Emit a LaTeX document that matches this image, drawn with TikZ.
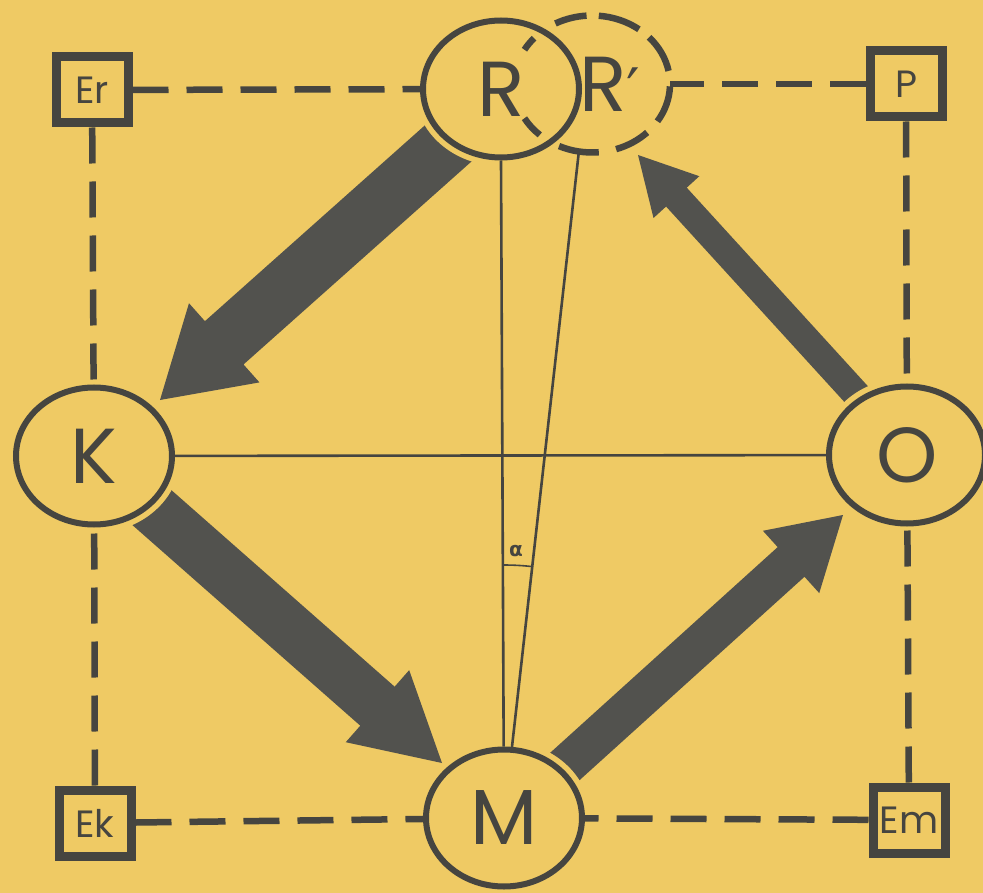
\documentclass[tikz,border=0pt]{standalone}
\usepackage{fontspec}
\setmainfont{Poppins}
\newfontfamily\symf{DejaVu Sans}
\usetikzlibrary{shapes.geometric,calc,angles}
\definecolor{bgc}{RGB}{239,202,100}
\definecolor{ink}{RGB}{70,69,64}
\definecolor{arrowc}{RGB}{82,82,78}
% name, tail, tip, half shaft width, half head width, head length
\newcommand\fatarr[6]{%
  \coordinate (#1b) at ($(#3)!#6!(#2)$);
  \fill[arrowc] ($(#2)!#4!90:(#3)$) -- ($(#1b)!#4!90:(#3)$) -- ($(#1b)!#5!90:(#3)$)
    -- (#3) -- ($(#1b)!#5!-90:(#3)$) -- ($(#1b)!#4!-90:(#3)$) -- ($(#2)!#4!-90:(#3)$) -- cycle;}
\tikzset{
  big/.style={ellipse, minimum width=156pt, minimum height=137pt, inner sep=0pt,
    line width=6pt, font=\fontsize{78}{78}\selectfont, text=ink},
  bigc/.style={big, draw=ink, fill=bgc, preaction={draw=bgc, line width=17pt}},
  boxn/.style={rectangle, draw=ink, line width=9pt, fill=bgc, minimum width=72pt,
    minimum height=66pt, inner sep=0pt, font=\fontsize{38}{38}\selectfont, text=ink},
  dline/.style={draw=ink, line width=6.5pt, dash pattern=on 36pt off 18pt},
  rdash/.style={draw=ink, line width=6.5pt},
  thinl/.style={draw=ink, line width=2.6pt},
}
\begin{document}
\begin{tikzpicture}[x=1pt,y=-1pt]
\useasboundingbox (0,0) rectangle (983,893);
\fill[bgc] (0,0) rectangle (983,893);
% fat arrows
\coordinate (a1t) at (470,124); \coordinate (a1h) at (160,400);
\coordinate (a2t) at (141,498); \coordinate (a2h) at (442,763);
\coordinate (a3t) at (551,779); \coordinate (a3h) at (843,515);
\coordinate (a4t) at (867,406); \coordinate (a4h) at (638,155);
\fatarr{a1}{a1t}{a1h}{29pt}{53pt}{86pt}
\fatarr{a2}{a2t}{a2h}{26pt}{48pt}{86pt}
\fatarr{a3}{a3t}{a3h}{20pt}{42pt}{70pt}
\fatarr{a4}{a4t}{a4h}{14pt}{31pt}{57pt}
% circles
\node[bigc] (R) at (501,89) {R};
\node[bigc] (K) at (94,456) {K};
\node[bigc] (O) at (907,455) {O};
\node[bigc] (M) at (504,818) {M};
% dashed circle R'
\node[big, outer sep=0pt] (Rp) at (592,84) {\hspace*{36pt}R{\symf\fontsize{60}{60}\selectfont ′}};
\foreach \a/\b in {-115/-85,-72/-45,-33/-2,11/43,53/85,94/118,138/150,210/228}
  \draw[rdash] ($(Rp.center)+(\a:78pt and 68.5pt)$) arc[start angle=\a, end angle=\b, x radius=78pt, y radius=68.5pt];
% boxes
\node[boxn] (Er) at (92,90) {Er};
\node[boxn] (P) at (906,84) {P};
\node[boxn] (Ek) at (95,823) {Ek};
\node[boxn] (Em) at (909,820) {Em};
% dashed connectors
\draw[dline] (Er) -- (R);
\draw[dline] (P) -- (Rp.east);
\draw[dline] (Er) -- (K);
\draw[dline] (Ek) -- (K);
\draw[dline] (Ek) -- (M);
\draw[dline] (Em) -- (M);
\draw[dline] (P) -- (O);
\draw[dline] (Em) -- (O);
% thin lines
\coordinate (rst) at (R.south);
\coordinate (rpt) at (Rp.-101);
\coordinate (Mc) at (M.center);
\draw[thinl] (K) -- (O);
\draw[thinl] (rst) -- (M);
\draw[thinl] (rpt) -- (M);
\pic[draw=ink, line width=1.6pt, angle radius=253pt] {angle = rpt--Mc--rst};
\node[text=ink, inner sep=0pt, font=\symf\bfseries\fontsize{20}{20}\selectfont] (alpha) at (516,551) {α};
\end{tikzpicture}
\end{document}
